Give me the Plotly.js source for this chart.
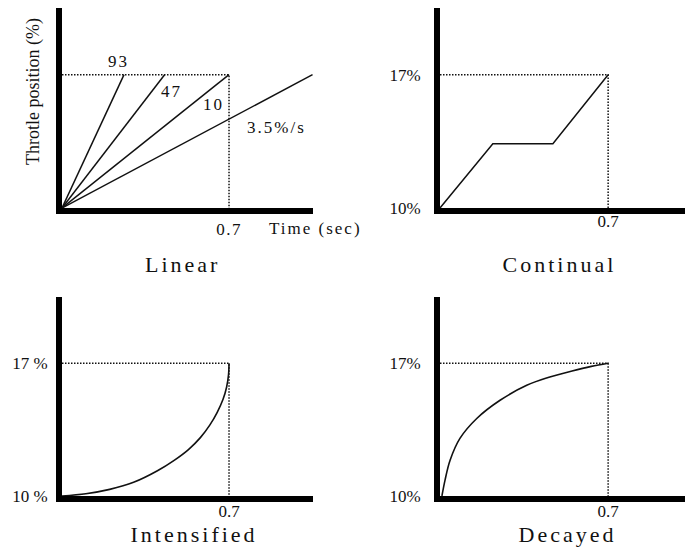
<!DOCTYPE html>
<html>
<head>
<meta charset="utf-8">
<script src="https://cdn.plot.ly/plotly-3.0.1.min.js"></script>
<style>
  html, body { margin: 0; padding: 0; background: #fff; }
  #chart { width: 685px; height: 548px; }
  .xtick text, .ytick text { letter-spacing: 1.5px; }
  .annotation-text { letter-spacing: 2px; }
  .annotation[data-index="0"] text,
  .annotation[data-index="1"] text,
  .annotation[data-index="2"] text,
  .annotation[data-index="3"] text { letter-spacing: 3px; }
  .annotation[data-index="9"] text { letter-spacing: 0; }
</style>
</head>
<body>
<div id="chart"></div>
<script>
// Throttle opening profiles: linear ramps, continual (ramp-hold-ramp),
// intensified (accelerating) and decayed (saturating) transitions.

const startLevel = 10;      // throttle position before the change (%)
const targetLevel = 17;     // throttle position after the change (%)
const markTime = 0.7;       // reference time (sec)

// Linear ramps: opening rates and the time each ramp reaches the target level
const linearRates = ["93", "47", "10", "3.5%/s"];
const linearEndTime = [0.26, 0.43, 0.70, 1.05];
const linearEndLevel = [17, 17, 17, 17];

// Continual: ramp, hold, ramp
const continualTime = [0, 0.22, 0.47, 0.70];
const continualLevel = [10, 13.37, 13.37, 17];

// Intensified: slow start, steep finish
const intensifiedTime = [0, 0.1, 0.2, 0.3, 0.4, 0.47, 0.53, 0.58, 0.62, 0.65, 0.675, 0.69, 0.698, 0.70];
const intensifiedLevel = [10, 10.12, 10.35, 10.72, 11.33, 11.88, 12.45, 13.08, 13.75, 14.4, 15.1, 15.75, 16.4, 17];

// Decayed: steep start, levelling off
const decayedTime = [0.008, 0.021, 0.042, 0.083, 0.153, 0.25, 0.361, 0.45, 0.55, 0.63, 0.70];
const decayedLevel = [10, 10.84, 11.89, 13.04, 14.09, 15.05, 15.84, 16.25, 16.6, 16.84, 17];

const panelTitles = ["Linear", "Continual", "Intensified", "Decayed"];

const W = 685, H = 548;
const px = v => v / W;
const py = v => 1 - v / H;

const serif = "Liberation Serif";
const ink = "#111";

const lineStyle = { color: ink, width: 1.5 };
const curveStyle = { color: ink, width: 1.6, shape: "spline", smoothing: 1 };
const guideStyle = { color: ink, width: 1.5, dash: "1.5px,1.5px" };

const traces = [];

function guide(xa, ya) {
  traces.push({
    x: [0, markTime, markTime], y: [targetLevel, targetLevel, startLevel],
    xaxis: xa, yaxis: ya, mode: "lines", line: guideStyle, hoverinfo: "skip"
  });
}

// Linear panel
guide("x", "y");
linearRates.forEach((r, i) => {
  traces.push({
    x: [0, linearEndTime[i]], y: [startLevel, linearEndLevel[i]],
    xaxis: "x", yaxis: "y", mode: "lines", line: lineStyle, name: r
  });
});

// Continual panel
guide("x2", "y2");
traces.push({ x: continualTime, y: continualLevel, xaxis: "x2", yaxis: "y2", mode: "lines", line: lineStyle });

// Intensified panel
guide("x3", "y3");
traces.push({ x: intensifiedTime, y: intensifiedLevel, xaxis: "x3", yaxis: "y3", mode: "lines", line: curveStyle });

// Decayed panel
guide("x4", "y4");
traces.push({ x: decayedTime, y: decayedLevel, xaxis: "x4", yaxis: "y4", mode: "lines", line: curveStyle });

function axisBase(extra) {
  return Object.assign({
    showline: true, linecolor: "#000", linewidth: 6,
    showgrid: false, zeroline: false, ticks: "", fixedrange: true,
    tickfont: { family: serif, size: 17, color: ink }
  }, extra);
}

const pctTicks = (sep) => ({
  tickvals: [startLevel, targetLevel],
  ticktext: [startLevel + sep + "%", targetLevel + sep + "%"]
});

const timeTick = { tickvals: [markTime], ticktext: [String(markTime)] };

const layout = {
  width: W, height: H,
  margin: { l: 0, r: 0, t: 0, b: 0 },
  paper_bgcolor: "#fff", plot_bgcolor: "rgba(0,0,0,0)",
  showlegend: false,
  font: { family: serif, color: ink },

  xaxis: axisBase(Object.assign({ domain: [px(62), px(313)], range: [0, 1.052], anchor: "y", ticklabelstandoff: 1 }, timeTick)),
  yaxis: axisBase({ domain: [py(208), py(8)], range: [10, 20.5], anchor: "x", showticklabels: false }),

  xaxis2: axisBase(Object.assign({ domain: [px(440), 1], range: [0, 1.02], anchor: "y2", ticklabelstandoff: -7 }, timeTick)),
  yaxis2: axisBase(Object.assign({ domain: [py(208), py(8)], range: [10, 20.5], anchor: "x2", ticklabelstandoff: 10 }, pctTicks(""))),

  xaxis3: axisBase(Object.assign({ domain: [px(62), px(313)], range: [0, 1.052], anchor: "y3", ticklabelstandoff: -5 }, timeTick)),
  yaxis3: axisBase(Object.assign({ domain: [py(496), py(297)], range: [10, 20.5], anchor: "x3", ticklabelstandoff: 5 }, pctTicks(" "))),

  xaxis4: axisBase(Object.assign({ domain: [px(440), 1], range: [0, 1.02], anchor: "y4", ticklabelstandoff: -5 }, timeTick)),
  yaxis4: axisBase(Object.assign({ domain: [py(496), py(297)], range: [10, 20.5], anchor: "x4", ticklabelstandoff: 10 }, pctTicks(""))),

  annotations: []
};

// Panel captions
const captionSpots = [[182, 264], [559, 264], [194, 534], [567, 534]];
panelTitles.forEach((t, i) => {
  layout.annotations.push({
    text: t, xref: "paper", yref: "paper",
    x: px(captionSpots[i][0]), y: py(captionSpots[i][1]),
    xanchor: "center", yanchor: "middle", showarrow: false,
    font: { family: serif, size: 22, color: ink }
  });
});

// Rate labels beside the linear ramps (data coordinates)
const rateLabelSpots = [[0.235, 17.68], [0.461, 16.1], [0.633, 15.42], [0.901, 14.2]];
linearRates.forEach((r, i) => {
  layout.annotations.push({
    text: r, xref: "x", yref: "y",
    x: rateLabelSpots[i][0], y: rateLabelSpots[i][1],
    xanchor: "center", yanchor: "middle", showarrow: false,
    font: { family: serif, size: 17, color: ink }
  });
});

// Time axis caption
layout.annotations.push({
  text: "Time (sec)", xref: "paper", yref: "paper",
  x: px(315), y: py(228.5), xanchor: "center", yanchor: "middle", showarrow: false,
  font: { family: serif, size: 17, color: ink }
});

// Throttle axis caption
layout.annotations.push({
  text: "Throtle position (%)", xref: "paper", yref: "paper",
  x: px(33), y: py(92), xanchor: "center", yanchor: "middle", showarrow: false,
  textangle: -90, font: { family: serif, size: 18, color: ink }
});

Plotly.newPlot("chart", traces, layout, { staticPlot: true, displayModeBar: false });
</script>
</body>
</html>
